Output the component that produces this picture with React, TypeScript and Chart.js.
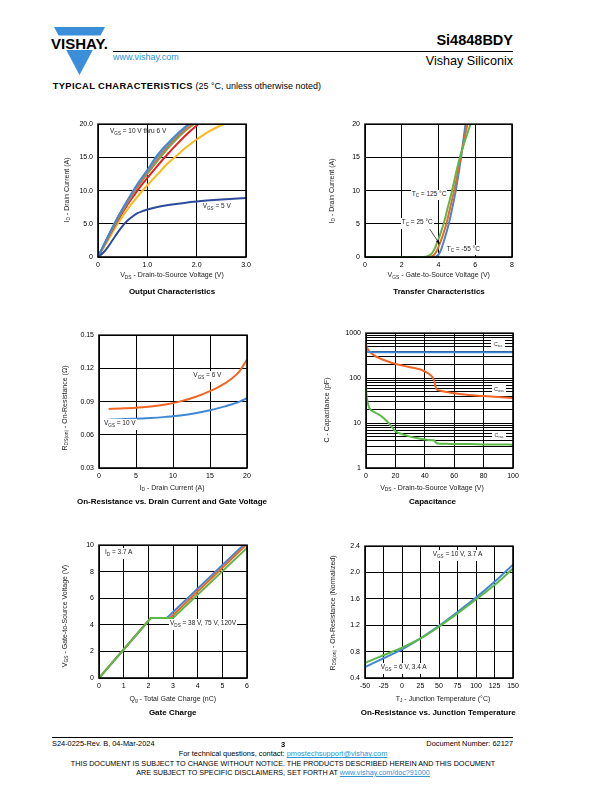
import React, { useEffect, useRef } from 'react';
import { Chart, registerables } from 'chart.js';

Chart.register(...registerables);

const FONT = '"Liberation Sans", Arial, Helvetica, sans-serif';

const C_BLUE = '#4287d6';
const C_GRAY = '#8f8f8f';
const C_ORANGE = '#f26522';
const C_GREEN = '#5cb946';
const C_RED = '#ec1c24';
const C_YELLOW = '#fbb917';
const C_NAVY = '#2e4b9b';
const C_LINK = '#2f93d8';

// ---------- Output Characteristics ----------
const outTicksX = [0, 1, 2, 3];
const outTicksY = [0, 5, 10, 15, 20];
const out10x = [0, 0.2, 0.4, 0.6, 0.8, 1.0, 1.2, 1.4, 1.6, 1.83];
const out10y = [0, 3.1, 6.0, 8.6, 11.0, 13.1, 15.3, 17.0, 18.5, 20];
const out9x = [0, 0.2, 0.4, 0.6, 0.8, 1.0, 1.2, 1.4, 1.6, 1.87];
const out9y = [0, 3.0, 5.9, 8.4, 10.8, 12.9, 14.9, 16.7, 18.3, 20];
const out8x = [0, 0.2, 0.4, 0.6, 0.8, 1.0, 1.2, 1.4, 1.6, 1.91];
const out8y = [0, 2.95, 5.8, 8.3, 10.6, 12.7, 14.7, 16.5, 18.1, 20];
const out7x = [0, 0.2, 0.4, 0.6, 0.8, 1.0, 1.2, 1.4, 1.6, 1.8, 1.95];
const out7y = [0, 2.9, 5.7, 8.2, 10.5, 12.5, 14.4, 16.2, 17.8, 19.2, 20];
const out6x = [0, 0.2, 0.4, 0.6, 0.8, 1.0, 1.2, 1.4, 1.6, 1.8, 2.03];
const out6y = [0, 2.8, 5.5, 7.9, 10.0, 11.9, 13.7, 15.4, 17.0, 18.5, 20];
const out55x = [0, 0.2, 0.4, 0.6, 0.8, 1.0, 1.2, 1.4, 1.6, 1.8, 2.0, 2.2, 2.4, 2.55];
const out55y = [0, 2.5, 5.0, 7.2, 9.1, 10.8, 12.4, 14.0, 15.3, 16.6, 17.7, 18.7, 19.5, 20];
const out5x = [0, 0.1, 0.2, 0.3, 0.4, 0.5, 0.6, 0.7, 0.8, 0.9, 1.0, 1.25, 1.5, 1.75, 2.0, 2.5, 3.0];
const out5y = [0, 0.6, 1.5, 2.6, 3.7, 4.7, 5.5, 6.1, 6.6, 6.9, 7.15, 7.6, 7.9, 8.15, 8.35, 8.65, 8.9];

// ---------- Transfer Characteristics ----------
const trTicksX = [0, 2, 4, 6, 8];
const trTicksY = [0, 5, 10, 15, 20];
const tr125x = [0, 3.0, 3.3, 3.5, 3.65, 3.8, 3.9, 4.0, 4.15, 4.3, 4.5, 4.74, 4.95, 5.16, 5.45, 5.74];
const tr125y = [0, 0, 0.05, 0.25, 0.6, 1.3, 2.0, 2.7, 3.9, 5.2, 7.4, 10, 12.6, 15, 17.6, 20];
const tr25x = [0, 3.4, 3.6, 3.75, 3.9, 4.07, 4.25, 4.43, 4.65, 4.85, 5.03, 5.2, 5.4, 5.57];
const tr25y = [0, 0, 0.05, 0.3, 0.9, 2.0, 3.4, 5.0, 7.6, 10, 12.5, 15, 17.6, 20];
const trM55x = [0, 3.7, 3.85, 4.0, 4.12, 4.25, 4.4, 4.56, 4.75, 4.94, 5.09, 5.23, 5.35, 5.47];
const trM55y = [0, 0, 0.05, 0.35, 0.95, 2.0, 3.4, 5.0, 7.4, 10, 12.5, 15, 17.5, 20];
const trArrow = [3.5, 4.3, 4.05, 2.0]; // x0, y0, x1, y1 in data units

// ---------- On-Resistance vs Drain Current ----------
const rdTicksX = [0, 5, 10, 15, 20];
const rdTicksY = [0.03, 0.06, 0.09, 0.12, 0.15];
const rd6x = [1.3, 3, 5, 7, 9, 11, 13, 15, 16, 17, 18, 19, 20];
const rd6y = [0.0833, 0.0838, 0.0845, 0.0855, 0.0873, 0.0902, 0.0942, 0.0995, 0.1027, 0.1065, 0.1111, 0.1175, 0.128];
const rd10x = [1.3, 3, 5, 7, 9, 11, 13, 15, 17, 19, 20];
const rd10y = [0.0737, 0.0741, 0.0746, 0.0752, 0.0762, 0.0775, 0.0795, 0.0822, 0.0857, 0.09, 0.0931];

// ---------- Capacitance ----------
const capTicksX = [0, 20, 40, 60, 80, 100];
const capGridY = [1, 2, 3, 4, 5, 6, 7, 8, 9, 10, 20, 30, 40, 50, 60, 70, 80, 90, 100, 200, 300, 400, 500, 600, 700, 800, 900, 1000];
const capLabelsY = [1, 10, 100, 1000];
const cissX = [0, 1, 2, 5, 10, 20, 40, 60, 80, 100];
const cissY = [400, 385, 380, 377, 376, 375, 375, 375, 375, 375];
const cossX = [0, 0.5, 1, 2, 5, 10, 15, 20, 25, 30, 35, 38, 41, 44, 46, 47, 48, 50, 55, 60, 70, 80, 90, 100];
const cossY = [600, 500, 450, 400, 330, 270, 235, 208, 190, 175, 162, 152, 135, 115, 95, 70, 57, 53, 49, 46, 42, 40, 38, 36];
const crssX = [0, 0.3, 1, 2, 3, 5, 8, 10, 13, 16, 20, 25, 30, 35, 40, 45, 46.5, 47.5, 48.5, 55, 60, 70, 80, 90, 100];
const crssY = [65, 45, 30, 23, 20, 18, 16, 14.5, 12, 9.5, 6.6, 5.6, 5, 4.6, 4.3, 4.15, 4.1, 3.7, 3.5, 3.45, 3.4, 3.4, 3.35, 3.35, 3.3];

// ---------- Gate Charge ----------
const gcTicksX = [0, 1, 2, 3, 4, 5, 6];
const gcTicksY = [0, 2, 4, 6, 8, 10];
const gc38x = [0, 2.1, 2.75, 5.85];
const gc38y = [0, 4.52, 4.52, 10];
const gc75x = [0, 2.1, 2.88, 5.95];
const gc75y = [0, 4.52, 4.52, 10];
const gc120x = [0, 2.1, 3.0, 6.0];
const gc120y = [0, 4.52, 4.52, 9.8];

// ---------- On-Resistance vs Junction Temperature ----------
const tjTicksX = [-50, -25, 0, 25, 50, 75, 100, 125, 150];
const tjTicksY = [0.4, 0.8, 1.2, 1.6, 2.0, 2.4];
const tjX = [-50, -25, 0, 25, 50, 75, 100, 125, 150];
const tj10y = [0.565, 0.7, 0.835, 1.0, 1.19, 1.4, 1.62, 1.86, 2.12];
const tj6y = [0.63, 0.745, 0.86, 1.0, 1.18, 1.38, 1.59, 1.81, 2.06];

type Series = { xs: number[]; ys: number[]; color: string; straight?: boolean };
type Spec = {
  left: number; top: number; width: number; height: number;
  xMin: number; xMax: number; xTicks: number[]; xFmt: (v: number) => string;
  yMin: number; yMax: number; yTicks: number[]; yFmt: (v: number) => string;
  yLog?: boolean;
  series: Series[]; // first series is drawn on top
  arrow?: number[];
};

const PAD_L = 36, PAD_T = 8, PAD_R = 14, PAD_B = 18;

const framePlugin = {
  id: 'frame',
  afterDatasetsDraw(chart: any) {
    const { ctx, chartArea: a } = chart;
    ctx.save();
    ctx.strokeStyle = '#000';
    ctx.lineWidth = 1.6;
    ctx.strokeRect(a.left, a.top, a.right - a.left, a.bottom - a.top);
    ctx.restore();
  },
};

const arrowPlugin = {
  id: 'arrow',
  afterDatasetsDraw(chart: any, _args: any, opts: any) {
    const ar = opts && opts.points;
    if (!ar) return;
    const xs = chart.scales.x, ys = chart.scales.y;
    const x0 = xs.getPixelForValue(ar[0]), y0 = ys.getPixelForValue(ar[1]);
    const x1 = xs.getPixelForValue(ar[2]), y1 = ys.getPixelForValue(ar[3]);
    const ctx = chart.ctx;
    ctx.save();
    ctx.strokeStyle = '#000';
    ctx.fillStyle = '#000';
    ctx.lineWidth = 0.7;
    ctx.beginPath();
    ctx.moveTo(x0, y0);
    ctx.lineTo(x1, y1);
    ctx.stroke();
    const ang = Math.atan2(y1 - y0, x1 - x0);
    const L = 4;
    ctx.beginPath();
    ctx.moveTo(x1, y1);
    ctx.lineTo(x1 - L * Math.cos(ang - 0.4), y1 - L * Math.sin(ang - 0.4));
    ctx.lineTo(x1 - L * Math.cos(ang + 0.4), y1 - L * Math.sin(ang + 0.4));
    ctx.closePath();
    ctx.fill();
    ctx.restore();
  },
};

function PlotChart({ spec }: { spec: Spec }) {
  const ref = useRef<HTMLCanvasElement>(null);
  const W = spec.width + PAD_L + PAD_R;
  const H = spec.height + PAD_T + PAD_B;
  useEffect(() => {
    const tickFont = { family: FONT, size: 7 };
    const chart = new Chart(ref.current as HTMLCanvasElement, {
      type: 'line',
      data: {
        datasets: spec.series.map((s) => ({
          data: s.xs.map((x, i) => ({ x, y: s.ys[i] })),
          borderColor: s.color,
          borderWidth: 2,
          pointRadius: 0,
          fill: false,
          tension: s.straight ? 0 : 0.4,
          cubicInterpolationMode: s.straight ? 'default' : 'monotone',
        })),
      } as any,
      options: {
        animation: false,
        responsive: false,
        maintainAspectRatio: false,
        events: [],
        layout: { padding: { top: PAD_T, right: PAD_R, left: 0, bottom: 0 } },
        plugins: {
          legend: { display: false },
          tooltip: { enabled: false },
          arrow: { points: spec.arrow },
        } as any,
        scales: {
          x: {
            type: 'linear',
            min: spec.xMin,
            max: spec.xMax,
            afterBuildTicks: (s: any) => { s.ticks = spec.xTicks.map((v) => ({ value: v })); },
            afterFit: (s: any) => { s.height = PAD_B; },
            ticks: { font: tickFont, color: '#000', padding: 4, maxRotation: 0, autoSkip: false, callback: (v: any) => spec.xFmt(Number(v)) },
            grid: { color: '#000', lineWidth: 1, drawTicks: false },
            border: { display: false },
          },
          y: {
            type: spec.yLog ? 'logarithmic' : 'linear',
            min: spec.yMin,
            max: spec.yMax,
            afterBuildTicks: (s: any) => { s.ticks = spec.yTicks.map((v) => ({ value: v })); },
            afterFit: (s: any) => { s.width = PAD_L; },
            ticks: { font: tickFont, color: '#000', padding: 5, autoSkip: false, callback: (v: any) => spec.yFmt(Number(v)) },
            grid: { color: '#000', lineWidth: 1, drawTicks: false },
            border: { display: false },
          },
        } as any,
      },
      plugins: [framePlugin, arrowPlugin],
    } as any);
    return () => chart.destroy();
  }, []);
  return (
    <canvas
      ref={ref}
      width={W}
      height={H}
      style={{ position: 'absolute', left: spec.left - PAD_L, top: spec.top - PAD_T, width: W, height: H }}
    />
  );
}

const f1 = (v: number) => (v === 0 ? '0' : v.toFixed(1));
const fInt = (v: number) => String(v);
const f2 = (v: number) => v.toFixed(2);

const specs: Spec[] = [
  {
    left: 98, top: 123, width: 148, height: 134,
    xMin: 0, xMax: 3, xTicks: outTicksX, xFmt: f1,
    yMin: 0, yMax: 20, yTicks: outTicksY, yFmt: f1,
    series: [
      { xs: out5x, ys: out5y, color: C_NAVY },
      { xs: out10x, ys: out10y, color: C_BLUE },
      { xs: out9x, ys: out9y, color: C_GRAY },
      { xs: out8x, ys: out8y, color: C_ORANGE },
      { xs: out7x, ys: out7y, color: C_GREEN },
      { xs: out6x, ys: out6y, color: C_RED },
      { xs: out55x, ys: out55y, color: C_YELLOW },
    ],
  },
  {
    left: 365, top: 123, width: 147, height: 134,
    xMin: 0, xMax: 8, xTicks: trTicksX, xFmt: fInt,
    yMin: 0, yMax: 20, yTicks: trTicksY, yFmt: fInt,
    series: [
      { xs: tr125x, ys: tr125y, color: C_GREEN },
      { xs: tr25x, ys: tr25y, color: C_ORANGE },
      { xs: trM55x, ys: trM55y, color: C_BLUE },
    ],
    arrow: trArrow,
  },
  {
    left: 99, top: 334, width: 148, height: 134,
    xMin: 0, xMax: 20, xTicks: rdTicksX, xFmt: fInt,
    yMin: 0.03, yMax: 0.15, yTicks: rdTicksY, yFmt: f2,
    series: [
      { xs: rd10x, ys: rd10y, color: C_BLUE },
      { xs: rd6x, ys: rd6y, color: C_ORANGE },
    ],
  },
  {
    left: 366, top: 332, width: 147, height: 136,
    xMin: 0, xMax: 100, xTicks: capTicksX, xFmt: fInt,
    yMin: 1, yMax: 1000, yTicks: capGridY, yFmt: (v: number) => (capLabelsY.includes(v) ? String(v) : ''),
    yLog: true,
    series: [
      { xs: cissX, ys: cissY, color: C_BLUE },
      { xs: cossX, ys: cossY, color: C_ORANGE },
      { xs: crssX, ys: crssY, color: C_GREEN },
    ],
  },
  {
    left: 99, top: 544, width: 148, height: 134,
    xMin: 0, xMax: 6, xTicks: gcTicksX, xFmt: fInt,
    yMin: 0, yMax: 10, yTicks: gcTicksY, yFmt: fInt,
    series: [
      { xs: gc120x, ys: gc120y, color: C_GREEN, straight: true },
      { xs: gc75x, ys: gc75y, color: C_ORANGE, straight: true },
      { xs: gc38x, ys: gc38y, color: C_BLUE, straight: true },
    ],
  },
  {
    left: 365, top: 545, width: 148, height: 133,
    xMin: -50, xMax: 150, xTicks: tjTicksX, xFmt: fInt,
    yMin: 0.4, yMax: 2.4, yTicks: tjTicksY, yFmt: (v: number) => v.toFixed(1),
    series: [
      { xs: tjX, ys: tj6y, color: C_GREEN },
      { xs: tjX, ys: tj10y, color: C_BLUE },
    ],
  },
];

function Sub({ children }: { children: React.ReactNode }) {
  return <span style={{ fontSize: '0.7em', position: 'relative', top: '0.3em' }}>{children}</span>;
}

function Txt(props: { x: number; y: number; size: number; align?: string; bold?: boolean; color?: string; bg?: boolean; children: React.ReactNode; style?: React.CSSProperties }) {
  const { x, y, size, align = 'left', bold, color = '#000', bg, children, style } = props;
  const tx = align === 'center' ? 'translateX(-50%)' : align === 'right' ? 'translateX(-100%)' : 'none';
  return (
    <div
      style={{
        position: 'absolute', left: x, top: y - 0.8465 * size, fontSize: size, lineHeight: `${size}px`,
        fontWeight: bold ? 'bold' : 'normal', color, whiteSpace: 'nowrap', transform: tx, fontFamily: FONT,
        background: bg ? '#fff' : 'transparent', padding: bg ? '1px 1px 2px 1px' : 0, margin: bg ? '-1px -1px' : 0,
        ...style,
      }}
    >
      {children}
    </div>
  );
}

function VTxt({ x, y, size, children }: { x: number; y: number; size: number; children: React.ReactNode }) {
  return (
    <div
      style={{
        position: 'absolute', left: x, top: y, fontSize: size, lineHeight: `${size}px`, whiteSpace: 'nowrap',
        transform: 'translate(-50%,-50%) rotate(-90deg)', fontFamily: FONT, color: '#222',
      }}
    >
      {children}
    </div>
  );
}

function Box({ x, y, children }: { x: number; y: number; children: React.ReactNode }) {
  return (
    <div
      style={{
        position: 'absolute', left: x - 7, top: y - 4.5, width: 14, height: 9, background: '#fff',
        fontSize: 5.5, lineHeight: '8px', textAlign: 'center', fontFamily: FONT, color: '#333',
      }}
    >
      {children}
    </div>
  );
}

const AX = 7;
const AN = 6.5;
const AC = '#222';

export default function App() {
  return (
    <div style={{ position: 'absolute', left: 0, top: 0, width: 612, height: 792, background: '#fff', overflow: 'hidden', fontFamily: FONT }}>
      {/* Header */}
      <svg width={612} height={80} style={{ position: 'absolute', left: 0, top: 0 }}>
        <polygon points="54,27 105,27 79.5,75" fill="#3b8fd8" />
        <rect x={50} y={35.5} width={60} height={14.5} fill="#fff" />
        <text x={51} y={48.5} fontFamily={FONT} fontWeight="bold" fontSize={14.5} textLength={57} lengthAdjust="spacingAndGlyphs" fill="#000">VISHAY.</text>
      </svg>
      <div style={{ position: 'absolute', left: 113, top: 51, width: 400, height: 1.2, background: '#000' }} />
      <Txt x={513} y={45.7} size={14.5} align="right" bold>Si4848BDY</Txt>
      <Txt x={113} y={61} size={9} color={C_LINK}>www.vishay.com</Txt>
      <Txt x={513} y={65.7} size={12.6} align="right">Vishay Siliconix</Txt>
      <Txt x={52.7} y={90} size={9}>
        <span style={{ fontWeight: 'bold', letterSpacing: 0.4, fontSize: 9.3 }}>TYPICAL CHARACTERISTICS</span> (25 °C, unless otherwise noted)
      </Txt>

      {specs.map((s, i) => <PlotChart key={i} spec={s} />)}

      {/* Chart 1 texts */}
      <Txt x={172} y={277} size={AX} align="center" color={AC}>V<Sub>DS</Sub> - Drain-to-Source Voltage (V)</Txt>
      <VTxt x={66.7} y={190} size={AX}>I<Sub>D</Sub> - Drain Current (A)</VTxt>
      <Txt x={172} y={295} size={8} align="center" bold>Output Characteristics</Txt>
      <Txt x={110} y={134} size={AN} color={AC}>V<Sub>GS</Sub> = 10 V thru 6 V</Txt>
      <Txt x={202.7} y={209} size={AN} color={AC}>V<Sub>GS</Sub> = 5 V</Txt>

      {/* Chart 2 texts */}
      <Txt x={438.7} y={277} size={AX} align="center" color={AC}>V<Sub>GS</Sub> - Gate-to-Source Voltage (V)</Txt>
      <VTxt x={331.7} y={190.7} size={AX}>I<Sub>D</Sub> - Drain Current (A)</VTxt>
      <Txt x={439} y={295} size={8} align="center" bold>Transfer Characteristics</Txt>
      <Txt x={411.7} y={196.3} size={AN} color={AC} bg>T<Sub>C</Sub> = 125 °C</Txt>
      <Txt x={401.7} y={224.7} size={AN} color={AC} bg>T<Sub>C</Sub> = 25 °C</Txt>
      <Txt x={446.7} y={251.3} size={AN} color={AC} bg>T<Sub>C</Sub> = -55 °C</Txt>

      {/* Chart 3 texts */}
      <Txt x={172} y={489.5} size={AX} align="center" color={AC}>I<Sub>D</Sub> - Drain Current (A)</Txt>
      <VTxt x={65} y={408} size={AX}>R<Sub>DS(on)</Sub> - On-Resistance (Ω)</VTxt>
      <Txt x={172} y={505} size={8} align="center" bold>On-Resistance vs. Drain Current and Gate Voltage</Txt>
      <Txt x={193.3} y={378} size={AN} color={AC} bg>V<Sub>GS</Sub> = 6 V</Txt>
      <Txt x={104} y={425.7} size={AN} color={AC} bg>V<Sub>GS</Sub> = 10 V</Txt>

      {/* Chart 4 texts */}
      <Txt x={432} y={489.5} size={AX} align="center" color={AC}>V<Sub>DS</Sub> - Drain-to-Source Voltage (V)</Txt>
      <VTxt x={326} y={410} size={AX}>C - Capacitance (pF)</VTxt>
      <Txt x={432.5} y={505} size={8} align="center" bold>Capacitance</Txt>
      <Box x={498} y={344}>C<Sub>iss</Sub></Box>
      <Box x={499} y={389}>C<Sub>oss</Sub></Box>
      <Box x={499} y={435.7}>C<Sub>rss</Sub></Box>

      {/* Chart 5 texts */}
      <Txt x={172.8} y={700.5} size={AX} align="center" color={AC}>Q<Sub>g</Sub> - Total Gate Charge (nC)</Txt>
      <VTxt x={65} y={616} size={AX}>V<Sub>GS</Sub> - Gate-to-Source Voltage (V)</VTxt>
      <Txt x={172.7} y={716} size={8} align="center" bold>Gate Charge</Txt>
      <Txt x={105} y={554.7} size={AN} color={AC} bg>I<Sub>D</Sub> = 3.7 A</Txt>
      <Txt x={170} y={625.7} size={AN} color={AC} bg>V<Sub>DS</Sub> = 38 V, 75 V, 120V</Txt>

      {/* Chart 6 texts */}
      <Txt x={443} y={700.5} size={AX} align="center" color={AC}>T<Sub>J</Sub> - Junction Temperature (°C)</Txt>
      <VTxt x={332.7} y={613} size={AX}>R<Sub>DS(on)</Sub> - On-Resistance  (Normalized)</VTxt>
      <Txt x={438.3} y={716} size={8} align="center" bold>On-Resistance vs. Junction Temperature</Txt>
      <Txt x={432.7} y={557} size={AN} color={AC} bg>V<Sub>GS</Sub> = 10 V, 3.7 A</Txt>
      <Txt x={380.7} y={669.7} size={AN} color={AC} bg>V<Sub>GS</Sub> = 6 V, 3.4 A</Txt>

      {/* Footer */}
      <div style={{ position: 'absolute', left: 52, top: 736.5, width: 461, height: 1.2, background: '#000' }} />
      <Txt x={52} y={746} size={7.4}>S24-0225-Rev. B, 04-Mar-2024</Txt>
      <Txt x={283} y={747} size={7.5} align="center" bold>3</Txt>
      <Txt x={513} y={746} size={7.4} align="right">Document Number: 62127</Txt>
      <Txt x={283} y={756.7} size={7.4} align="center">
        For technical questions, contact: <span style={{ color: C_LINK, textDecoration: 'underline' }}>pmostechsupport@vishay.com</span>
      </Txt>
      <Txt x={283} y={766.5} size={7.2} align="center">THIS DOCUMENT IS SUBJECT TO CHANGE WITHOUT NOTICE. THE PRODUCTS DESCRIBED HEREIN AND THIS DOCUMENT</Txt>
      <Txt x={283} y={775} size={7.2} align="center">
        ARE SUBJECT TO SPECIFIC DISCLAIMERS, SET FORTH AT <span style={{ color: C_LINK, textDecoration: 'underline' }}>www.vishay.com/doc?91000</span>
      </Txt>
    </div>
  );
}
